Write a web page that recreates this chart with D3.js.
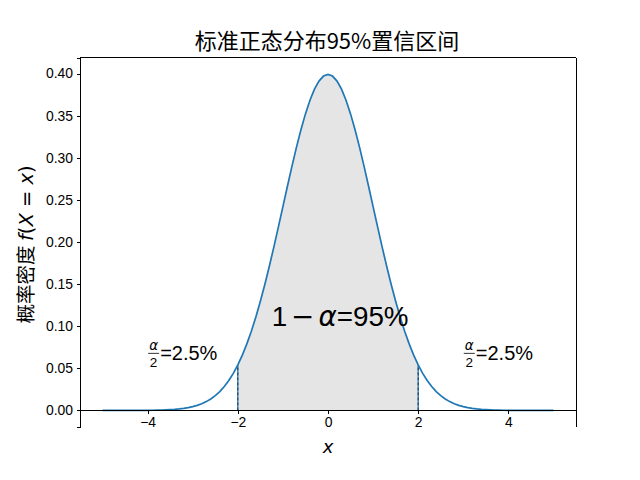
<!DOCTYPE html>
<html><head><meta charset="utf-8">
<script src="https://cdn.jsdelivr.net/npm/d3@7"></script>
<style>body{margin:0;background:#fff}svg{display:block}</style>
</head><body><svg id="c" width="640" height="480"></svg>
<script>
const xs = [-5,-4.9,-4.8,-4.7,-4.6,-4.5,-4.4,-4.3,-4.2,-4.1,-4,-3.9,-3.8,-3.7,-3.6,-3.5,-3.4,-3.3,-3.2,-3.1,-3,-2.9,-2.8,-2.7,-2.6,-2.5,-2.4,-2.3,-2.2,-2.1,-2,-1.9,-1.8,-1.7,-1.6,-1.5,-1.4,-1.3,-1.2,-1.1,-1,-0.9,-0.8,-0.7,-0.6,-0.5,-0.4,-0.3,-0.2,-0.1,0,0.1,0.2,0.3,0.4,0.5,0.6,0.7,0.8,0.9,1,1.1,1.2,1.3,1.4,1.5,1.6,1.7,1.8,1.9,2,2.1,2.2,2.3,2.4,2.5,2.6,2.7,2.8,2.9,3,3.1,3.2,3.3,3.4,3.5,3.6,3.7,3.8,3.9,4,4.1,4.2,4.3,4.4,4.5,4.6,4.7,4.8,4.9,5];
const pdfVals = [0,0,0,0.00001,0.00001,0.00002,0.00002,0.00004,0.00006,0.00009,0.00013,0.0002,0.00029,0.00042,0.00061,0.00087,0.00123,0.00172,0.00238,0.00327,0.00443,0.00595,0.00792,0.01042,0.01358,0.01753,0.02239,0.02833,0.03547,0.04398,0.05399,0.06562,0.07895,0.09405,0.11092,0.12952,0.14973,0.17137,0.19419,0.21785,0.24197,0.26609,0.28969,0.31225,0.33322,0.35207,0.36827,0.38139,0.39104,0.39695,0.39894,0.39695,0.39104,0.38139,0.36827,0.35207,0.33322,0.31225,0.28969,0.26609,0.24197,0.21785,0.19419,0.17137,0.14973,0.12952,0.11092,0.09405,0.07895,0.06562,0.05399,0.04398,0.03547,0.02833,0.02239,0.01753,0.01358,0.01042,0.00792,0.00595,0.00443,0.00327,0.00238,0.00172,0.00123,0.00087,0.00061,0.00042,0.00029,0.0002,0.00013,0.00009,0.00006,0.00004,0.00002,0.00002,0.00001,0.00001,0,0,0];
const xTicks = [-4,-2,0,2,4];
const yTicks = [0,0.05,0.10,0.15,0.20,0.25,0.30,0.35,0.40];
const bounds = [-2,2];
const titleText = "标准正态分布95%置信区间";
const yLabelCJK = "概率密度 ";
const centerLabel = {x:-1.25, y:0.1, text:"=95%"};
const tailLabels = [{x:-4, y:0.06}, {x:3, y:0.06}];

const svg = d3.select("#c");
const L=80,R=576,T=57.6,B=427.2;
const x = d3.scaleLinear().domain([-5.5,5.5]).range([L,R]);
const y = d3.scaleLinear().domain([-0.01995,0.41889]).range([B,T]);
const pts = xs.map((v,i)=>({x:v,y:pdfVals[i]}));
const blue="#1f77b4";
const latin="'Liberation Sans', Arial, sans-serif";
const cjk="'Noto Sans CJK SC', sans-serif";
const math="'DejaVu Sans', sans-serif";

// fill
const inner = pts.filter(d=>d.x>=bounds[0]-1e-9 && d.x<=bounds[1]+1e-9);
svg.append("path").datum(inner)
  .attr("d", d3.area().x(d=>x(d.x)).y0(y(0)).y1(d=>y(d.y)))
  .attr("fill","#e5e5e5");

// dashed bounds
bounds.forEach(b=>{
  const v = pdfVals[xs.findIndex(t=>Math.abs(t-b)<1e-9)];
  svg.append("line").attr("x1",x(b)).attr("x2",x(b)).attr("y1",y(0)).attr("y2",y(v))
    .attr("stroke",blue).attr("stroke-width",1.2);
  svg.append("line").attr("x1",x(b)).attr("x2",x(b)).attr("y1",y(0)).attr("y2",y(v))
    .attr("stroke","#1b3550").attr("stroke-width",1).attr("stroke-dasharray","3,2");
});

// curve
svg.append("path").datum(pts)
  .attr("d", d3.line().x(d=>x(d.x)).y(d=>y(d.y)))
  .attr("fill","none").attr("stroke",blue).attr("stroke-width",1.7);

// spines
const sp = svg.append("g").attr("stroke","#000").attr("stroke-width",1).attr("shape-rendering","crispEdges");
sp.append("line").attr("x1",L).attr("x2",L).attr("y1",T).attr("y2",B);
sp.append("line").attr("x1",R).attr("x2",R).attr("y1",T).attr("y2",B);
sp.append("line").attr("x1",L).attr("x2",R).attr("y1",T).attr("y2",T);

// axes
const fmtX = d=> (d<0?"\u2212":"")+Math.abs(d);
const gx = svg.append("g").attr("transform",`translate(0,${y(0)})`)
  .call(d3.axisBottom(x).tickValues(xTicks).tickFormat(fmtX).tickSize(3.5).tickPadding(3.5));
const gy = svg.append("g").attr("transform",`translate(${L},0)`)
  .call(d3.axisLeft(y).tickValues(yTicks).tickFormat(d3.format(".2f")).tickSize(3.5).tickPadding(3.5));
[gx,gy].forEach(g=>{
  g.selectAll("text").attr("font-family",latin).attr("font-size",13.9).attr("fill","#000");
  g.selectAll("line,path").attr("stroke","#000");
  g.attr("shape-rendering","crispEdges");
});
gx.select(".domain").attr("d",`M${L},0H${R}`);

// title
svg.append("text").attr("x",(L+R)/2-1).attr("y",49).attr("text-anchor","middle")
  .attr("font-family",cjk).attr("font-size",22).attr("fill","#000").text(titleText);

// y label
const yl = svg.append("text").attr("transform",`translate(33,${(T+B)/2+2}) rotate(-90)`)
  .attr("text-anchor","middle").attr("font-size",19.5).attr("fill","#000");
yl.append("tspan").attr("font-family",cjk).text(yLabelCJK);
yl.append("tspan").attr("font-family",math).attr("font-style","italic").text("f");
yl.append("tspan").attr("font-family",math).text("(");
yl.append("tspan").attr("font-family",math).attr("font-style","italic").text("X");
yl.append("tspan").attr("font-family",math).text(" = ");
yl.append("tspan").attr("font-family",math).attr("font-style","italic").text("x");
yl.append("tspan").attr("font-family",math).text(")");

// x label
svg.append("text").attr("x",x(0)).attr("y",453).attr("text-anchor","middle")
  .attr("font-family",math).attr("font-style","italic").attr("font-size",18).text("x");

// center label
const cl = svg.append("text").attr("x",x(centerLabel.x)).attr("y",y(centerLabel.y)).attr("font-size",27.8).attr("fill","#000");
cl.append("tspan").attr("font-family",latin).text("1");
cl.append("tspan").attr("font-family",math).attr("dx",4).text("\u2212");
cl.append("tspan").attr("font-family",math).attr("font-style","italic").attr("dx",4).text("\u03b1");
cl.append("tspan").attr("font-family",latin).text(centerLabel.text);

// tail labels
tailLabels.forEach(t=>{
  const g = svg.append("g").attr("transform",`translate(${x(t.x)},${y(t.y)})`);
  g.append("text").attr("x",6).attr("y",-10).attr("text-anchor","middle")
    .attr("font-family",math).attr("font-style","italic").attr("font-size",13.5).text("\u03b1");
  g.append("line").attr("x1",0.5).attr("x2",11.5).attr("y1",-6.5).attr("y2",-6.5).attr("stroke","#000").attr("stroke-width",0.8);
  g.append("text").attr("x",6).attr("y",7).attr("text-anchor","middle")
    .attr("font-family",latin).attr("font-size",13.5).text("2");
  g.append("text").attr("x",12.5).attr("y",0).attr("font-family",latin).attr("font-size",20).text("=2.5%");
});
</script></body></html>
